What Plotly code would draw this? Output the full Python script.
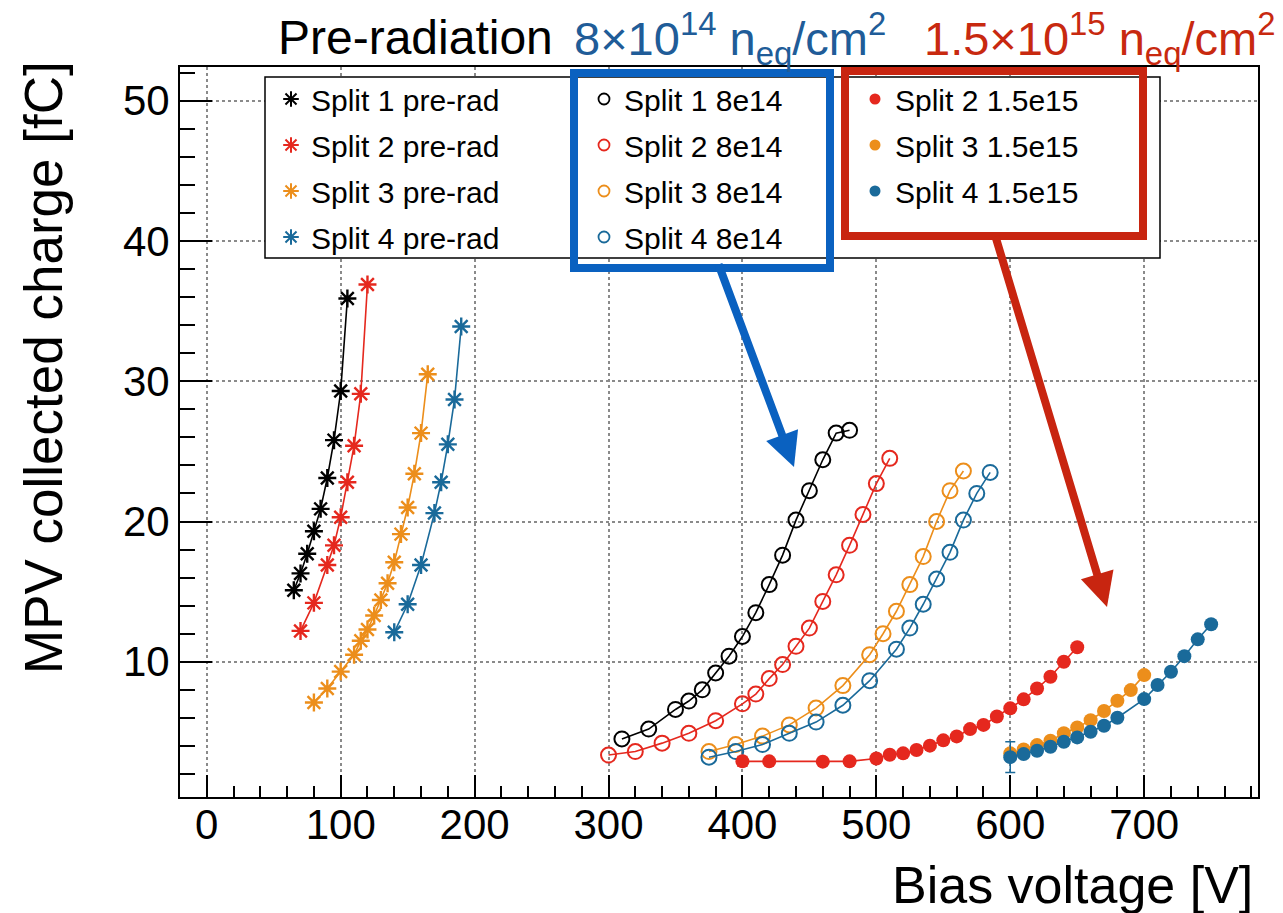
import plotly.graph_objects as go

# ---------------- data ----------------
pre_v1 = [65, 70, 75, 80, 85, 90, 95, 100, 105]
pre_q1 = [15.1, 16.3, 17.7, 19.3, 20.9, 23.1, 25.8, 29.3, 35.9]
pre_v2 = [70, 80, 90, 95, 100, 105, 110, 115, 120]
pre_q2 = [12.2, 14.2, 16.9, 18.3, 20.3, 22.8, 25.4, 29.1, 36.9]
pre_v3 = [80, 90, 100, 110, 115, 120, 125, 130, 135, 140, 145, 150, 155, 160, 165]
pre_q3 = [7.1, 8.1, 9.3, 10.5, 11.5, 12.3, 13.3, 14.4, 15.6, 17.1, 19.1, 21.0, 23.4, 26.3, 30.5]
pre_v4 = [140, 150, 160, 170, 175, 180, 185, 190]
pre_q4 = [12.1, 14.1, 16.9, 20.6, 22.8, 25.5, 28.7, 33.9]

i8_v1 = [310, 330, 350, 360, 370, 380, 390, 400, 410, 420, 430, 440, 450, 460, 470, 480]
i8_q1 = [4.5, 5.2, 6.6, 7.2, 8.0, 9.2, 10.4, 11.8, 13.5, 15.5, 17.6, 20.1, 22.2, 24.4, 26.3, 26.5]
i8_v2 = [300, 320, 340, 360, 380, 400, 410, 420, 430, 440, 450, 460, 470, 480, 490, 500, 510]
i8_q2 = [3.35, 3.6, 4.2, 4.9, 5.8, 7.0, 7.7, 8.8, 9.8, 11.1, 12.4, 14.3, 16.2, 18.3, 20.5, 22.7, 24.5]
i8_v3 = [375, 395, 415, 435, 455, 475, 495, 505, 515, 525, 535, 545, 555, 565]
i8_q3 = [3.6, 4.1, 4.7, 5.5, 6.7, 8.3, 10.5, 12.0, 13.6, 15.5, 17.5, 20.0, 22.2, 23.6]
i8_v4 = [375, 395, 415, 435, 455, 475, 495, 515, 525, 535, 545, 555, 565, 575, 585]
i8_q4 = [3.2, 3.6, 4.1, 4.9, 5.7, 6.9, 8.65, 10.9, 12.4, 14.1, 15.9, 17.8, 20.1, 22.0, 23.5]

i15_v2 = [400, 420, 460, 480, 500, 510, 520, 530, 540, 550, 560, 570, 580, 590, 600, 610, 620, 630, 640, 650]
i15_q2 = [2.9, 2.9, 2.88, 2.9, 3.1, 3.37, 3.47, 3.71, 4.02, 4.4, 4.68, 5.2, 5.5, 6.1, 6.68, 7.32, 8.1, 8.93, 10.0, 11.03]
i15_e2 = [0.35, 0.1, 0.1, 0.1, 0.1, 0.1, 0.1, 0.1, 0.1, 0.1, 0.1, 0.1, 0.1, 0.1, 0.1, 0.1, 0.1, 0.1, 0.1, 0.1]
i15_v3 = [600, 610, 620, 630, 640, 650, 660, 670, 680, 690, 700]
i15_q3 = [3.47, 3.75, 4.06, 4.37, 4.9, 5.32, 5.84, 6.49, 7.22, 7.98, 9.05]
i15_e3 = [0.3, 0.1, 0.1, 0.1, 0.1, 0.1, 0.1, 0.1, 0.1, 0.1, 0.1]
i15_v4 = [600, 610, 620, 630, 640, 650, 660, 670, 680, 700, 710, 720, 730, 740, 750]
i15_q4 = [3.2, 3.42, 3.66, 3.94, 4.3, 4.61, 5.01, 5.44, 6.01, 7.34, 8.34, 9.29, 10.4, 11.6, 12.67]
i15_e4 = [1.09, 0.1, 0.1, 0.1, 0.1, 0.1, 0.1, 0.1, 0.1, 0.1, 0.1, 0.1, 0.1, 0.1, 0.1]

x_ticks = [0, 100, 200, 300, 400, 500, 600, 700]
y_ticks = [10, 20, 30, 40, 50]

# ---------------- style ----------------
BLACK = "#000000"
RED = "#E5281E"
ORANGE = "#EC8E1B"
BLUE = "#1A6A9A"
FONT = "Liberation Sans"

W, H = 1283, 913
L, R, T, B = 180, 25, 67, 116
PW, PH = W - L - R, H - T - B


def px(xp):
    return (xp - L) / PW


def py(yp):
    return (H - B - yp) / PH


fig = go.Figure()

pre = [(pre_v1, pre_q1, BLACK, "Split 1 pre-rad"),
       (pre_v2, pre_q2, RED, "Split 2 pre-rad"),
       (pre_v3, pre_q3, ORANGE, "Split 3 pre-rad"),
       (pre_v4, pre_q4, BLUE, "Split 4 pre-rad")]
i8 = [(i8_v1, i8_q1, BLACK, "Split 1 8e14"),
      (i8_v2, i8_q2, RED, "Split 2 8e14"),
      (i8_v3, i8_q3, ORANGE, "Split 3 8e14"),
      (i8_v4, i8_q4, BLUE, "Split 4 8e14")]
i15 = [(i15_v2, i15_q2, i15_e2, RED, "Split 2 1.5e15"),
       (i15_v3, i15_q3, i15_e3, ORANGE, "Split 3 1.5e15"),
       (i15_v4, i15_q4, i15_e4, BLUE, "Split 4 1.5e15")]

for v, q, c, n in pre:
    fig.add_trace(go.Scatter(x=v, y=q, mode="lines+markers", showlegend=False,
                             line=dict(color=c, width=1.6),
                             marker=dict(symbol="asterisk-open", size=15, color=c,
                                         line=dict(color=c, width=2.4))))
for v, q, c, n in i8:
    fig.add_trace(go.Scatter(x=v, y=q, mode="lines+markers", showlegend=False,
                             line=dict(color=c, width=1.6),
                             marker=dict(symbol="circle-open", size=15, color=c,
                                         line=dict(color=c, width=2))))
for v, q, e, c, n in i15:
    fig.add_trace(go.Scatter(x=v, y=q, mode="lines+markers", showlegend=False,
                             line=dict(color=c, width=1.6),
                             error_y=dict(type="data", array=e, color=c, thickness=1.5, width=5),
                             marker=dict(symbol="circle", size=14, color=c)))

# legend entries
for v, q, c, n in pre:
    fig.add_trace(go.Scatter(x=[None], y=[None], mode="markers", name=n, legend="legend",
                             legendgroup=n,
                             marker=dict(symbol="asterisk-open", size=13, color=c,
                                         line=dict(color=c, width=2))))
for v, q, c, n in i8:
    fig.add_trace(go.Scatter(x=[None], y=[None], mode="markers", name=n, legend="legend2",
                             legendgroup=n,
                             marker=dict(symbol="circle-open", size=11, color=c,
                                         line=dict(color=c, width=1.8))))
for v, q, e, c, n in i15:
    fig.add_trace(go.Scatter(x=[None], y=[None], mode="markers", name=n, legend="legend3",
                             legendgroup=n,
                             marker=dict(symbol="circle", size=11, color=c)))

leg_common = dict(bgcolor="rgba(0,0,0,0)", borderwidth=0, traceorder="grouped",
                  tracegroupgap=4, font=dict(family=FONT, size=30, color="black"),
                  xanchor="left", yanchor="top", itemwidth=30)

axis_common = dict(showline=True, linecolor="black", linewidth=2, mirror=True,
                   ticks="inside", tickcolor="black", tickwidth=2,
                   showgrid=True, gridcolor="#8a8a8a", gridwidth=1.5, griddash="dot",
                   zeroline=False, automargin=False,
                   tickfont=dict(family=FONT, size=42, color="black"))

fig.update_layout(
    width=W, height=H,
    margin=dict(l=L, r=R, t=T, b=B, autoexpand=False),
    paper_bgcolor="white", plot_bgcolor="white",
    xaxis=dict(range=[-20, 785], tickvals=x_ticks, ticklen=22, ticklabelstandoff=-10,
               minor=dict(ticks="inside", dtick=20, tick0=0, ticklen=11, tickcolor="black",
                          tickwidth=2, showgrid=False),
               **axis_common),
    yaxis=dict(range=[0.36, 52.4], tickvals=y_ticks, ticklen=32,
               minor=dict(ticks="inside", dtick=2, tick0=0, ticklen=15, tickcolor="black",
                          tickwidth=2, showgrid=False),
               **axis_common),
    legend=dict(x=px(271), y=py(73), **leg_common),
    legend2=dict(x=px(584), y=py(73), **leg_common),
    legend3=dict(x=px(855), y=py(73), **leg_common),
)

# legend frame and highlight boxes
fig.add_shape(type="rect", xref="paper", yref="paper", layer="above",
              x0=px(265), x1=px(1160), y0=py(258), y1=py(77),
              line=dict(color="black", width=1.5), fillcolor="white")
fig.add_shape(type="rect", xref="paper", yref="paper", layer="above",
              x0=px(574), x1=px(830), y0=py(268), y1=py(73),
              line=dict(color="#0A61C0", width=8))
fig.add_shape(type="rect", xref="paper", yref="paper", layer="above",
              x0=px(845), x1=px(1143), y0=py(236), y1=py(71),
              line=dict(color="#C82510", width=8))

# arrows
fig.add_annotation(xref="paper", yref="paper", x=px(794), y=py(467), ax=-76, ay=-204,
                   text="", showarrow=True, arrowhead=2, arrowsize=0.85, arrowwidth=8,
                   arrowcolor="#0A61C0")
fig.add_annotation(xref="paper", yref="paper", x=px(1107), y=py(607), ax=-112, ay=-372,
                   text="", showarrow=True, arrowhead=2, arrowsize=0.85, arrowwidth=8,
                   arrowcolor="#C82510")

# title pieces
fig.add_annotation(xref="paper", yref="paper", x=px(276), y=py(37), xanchor="left",
                   yanchor="middle", showarrow=False, text="Pre-radiation",
                   font=dict(family=FONT, size=48, color="black"))
fig.add_annotation(xref="paper", yref="paper", x=px(572), y=py(39), xanchor="left",
                   yanchor="middle", showarrow=False,
                   text="8×10<sup>14</sup> n<sub>eq</sub>/cm<sup>2</sup>",
                   font=dict(family=FONT, size=47, color="#205C98"))
fig.add_annotation(xref="paper", yref="paper", x=px(922), y=py(39), xanchor="left",
                   yanchor="middle", showarrow=False,
                   text="1.5×10<sup>15</sup> n<sub>eq</sub>/cm<sup>2</sup>",
                   font=dict(family=FONT, size=47, color="#C8290F"))

# axis titles
fig.add_annotation(xref="paper", yref="paper", x=px(1255), y=py(885), xanchor="right",
                   yanchor="middle", showarrow=False, text="Bias voltage [V]",
                   font=dict(family=FONT, size=52, color="black"))
fig.add_annotation(xref="paper", yref="paper", x=px(43), y=py(368), xanchor="center",
                   yanchor="middle", showarrow=False, textangle=-90,
                   text="MPV collected charge [fC]",
                   font=dict(family=FONT, size=53, color="black"))

fig.write_html("out.html", config={"displayModeBar": False},
               post_script="document.body.style.margin='0';")
